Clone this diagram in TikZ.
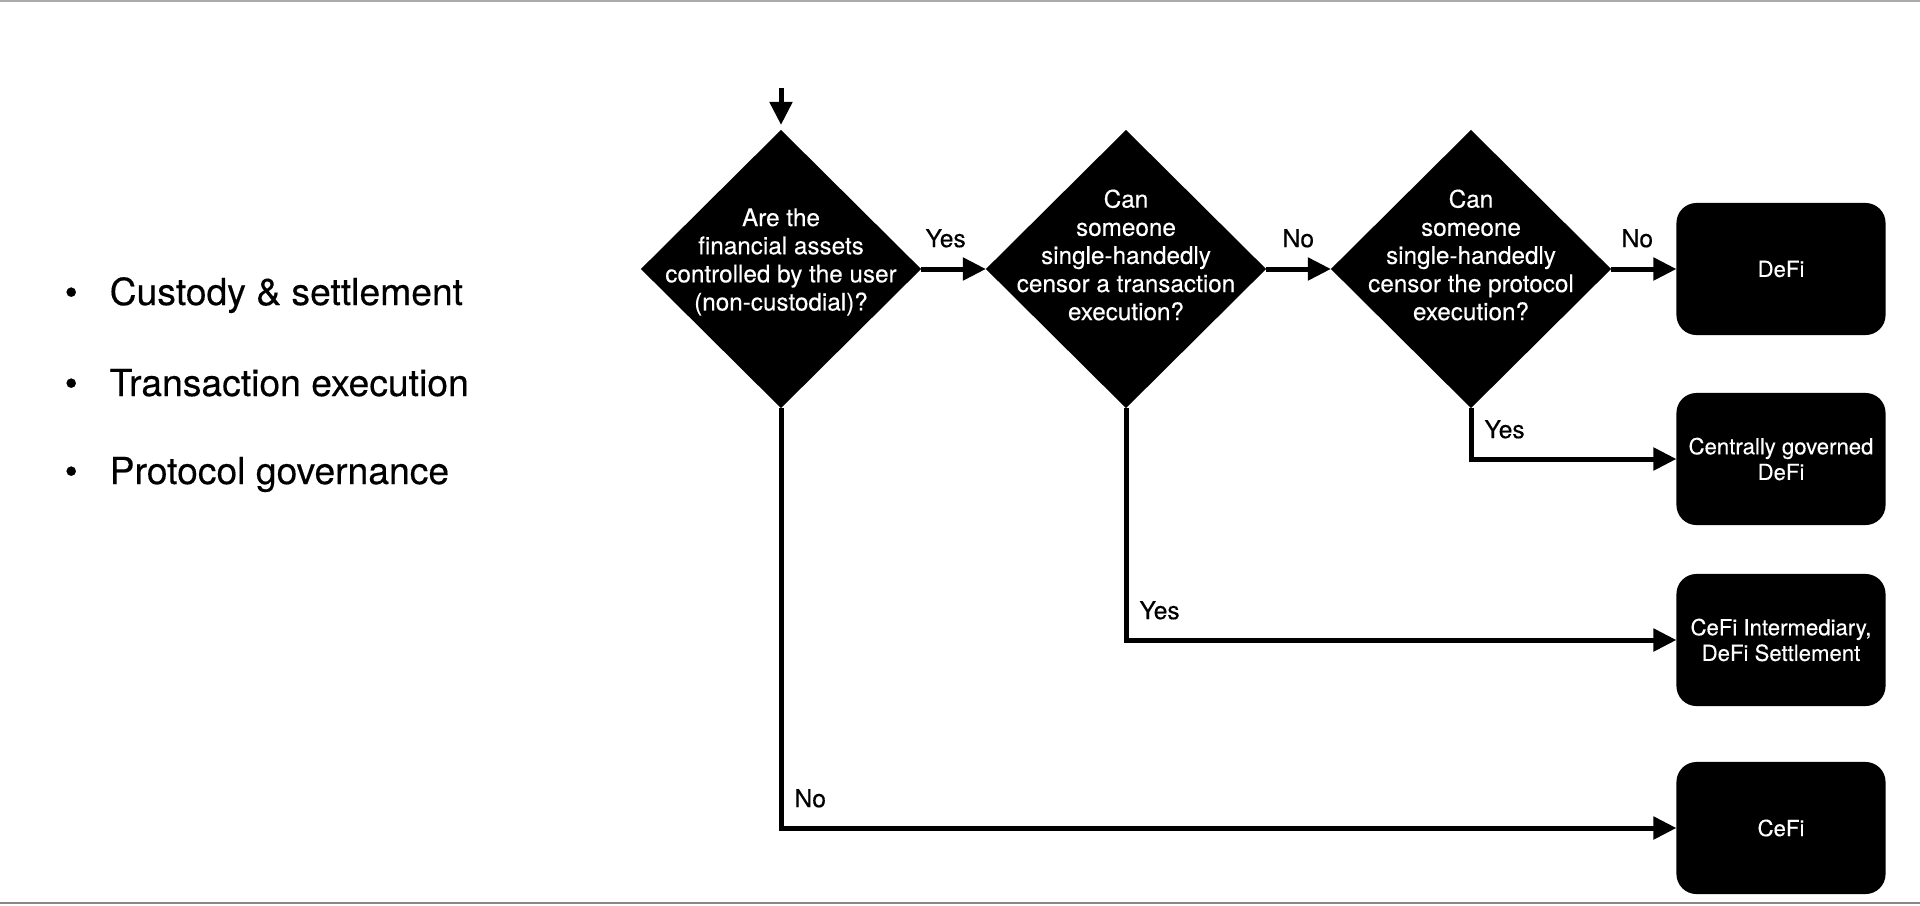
\documentclass[tikz,border=0pt]{standalone}
\usepackage{fontspec}
\setmainfont{TeX Gyre Heros}[FakeBold=0.3]
\usetikzlibrary{shapes.geometric,arrows.meta}

\begin{document}
\begin{tikzpicture}[x=0.01cm,y=-0.01cm,
  decision/.style={diamond,fill=black,inner sep=0pt,outer sep=0pt,minimum width=2.8cm,minimum height=2.78cm},
  qtext/.style={text=white,align=center,inner sep=0pt,font=\fontsize{6.9}{8}\selectfont},
  outcome/.style={rectangle,rounded corners=0.2cm,fill=black,text=white,align=center,inner sep=0pt,outer sep=0pt,minimum width=2.09cm,minimum height=1.32cm,font=\fontsize{6.3}{7.3}\selectfont},
  flow/.style={line width=0.05cm,-{Triangle[length=0.23cm,width=0.22cm]}},
  lbl/.style={inner sep=0pt,anchor=south west,font=\fontsize{7}{8}\selectfont},
  point/.style={inner sep=0pt,anchor=base west,font=\fontsize{10.6}{12}\selectfont}]
\useasboundingbox (0,0) rectangle (1920,905);
\draw [black!33,line width=0.02cm] (0,1) -- (1920,1);
\draw [black!47,line width=0.02cm] (0,903) -- (1920,903);

\node [point] (dot1) at (64,305) {•};
\node [point] (pt1) at (109,305) {Custody \& settlement};
\node [point] (dot2) at (64,396) {•};
\node [point] (pt2) at (109,396) {Transaction execution};
\node [point] (dot3) at (64,484) {•};
\node [point] (pt3) at (109,484) {Protocol governance};

\node [decision] (q1) at (781,269) {};
\node [qtext] (q1t) at (781,262) {Are the\\financial assets\\controlled by the user\\(non-custodial)?};
\node [decision] (q2) at (1126,269) {};
\node [qtext] (q2t) at (1126,255) {Can\\someone\\single-handedly\\censor a transaction\\execution?};
\node [decision] (q3) at (1471,269) {};
\node [qtext] (q3t) at (1471,255) {Can\\someone\\single-handedly\\censor the protocol\\execution?};

\node [outcome] (defi) at (1781,269) {DeFi};
\node [outcome] (govdefi) at (1781,459) {Centrally governed\\DeFi};
\node [outcome] (cefidefi) at (1781,640) {CeFi Intermediary,\\DeFi Settlement};
\node [outcome] (cefi) at (1781,828) {CeFi};

\coordinate (in) at (781,88);
\draw [flow,shorten >=0.05cm] (in) -- (q1.north);
\draw [flow] (q1.east) -- (q2.west) node [lbl,pos=0,xshift=0.02cm,yshift=0.19cm] {Yes};
\draw [flow] (q2.east) -- (q3.west) node [lbl,pos=0,xshift=0.14cm,yshift=0.19cm] {No};
\draw [flow] (q3.east) -- (defi.west) node [lbl,pos=0,xshift=0.08cm,yshift=0.19cm] {No};
\draw [flow] (q3.south) |- (govdefi.west) node [lbl,pos=0.5,xshift=0.11cm,yshift=0.18cm] {Yes};
\draw [flow] (q2.south) |- (cefidefi.west) node [lbl,pos=0.5,xshift=0.11cm,yshift=0.18cm] {Yes};
\draw [flow] (q1.south) |- (cefi.west) node [lbl,pos=0.5,xshift=0.11cm,yshift=0.18cm] {No};
\end{tikzpicture}
\end{document}
